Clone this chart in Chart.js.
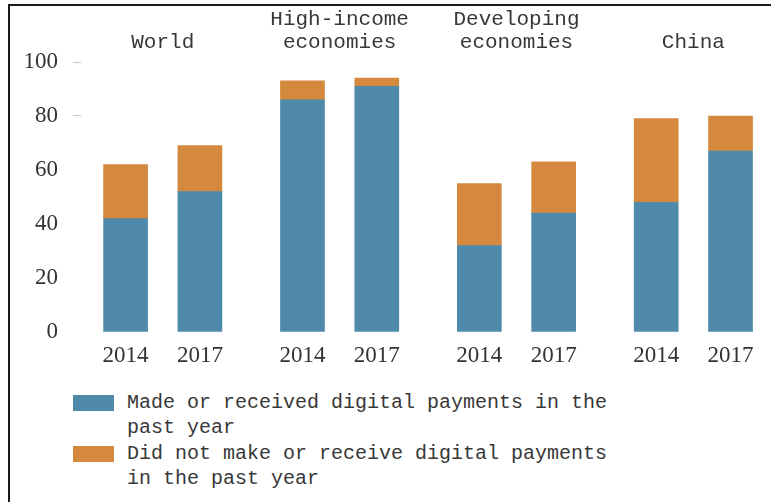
<!DOCTYPE html>
<html>
<head>
<meta charset="utf-8">
<script src="https://cdn.jsdelivr.net/npm/chart.js@4/dist/chart.umd.min.js"></script>
<style>
  html, body { margin: 0; padding: 0; background: #fff; }
  #wrap { position: relative; width: 771px; height: 502px; overflow: hidden; }
  #frame {
    position: absolute; left: 8px; top: 4px; width: 800px; height: 520px;
    border-left: 2.5px solid #1a1a1a; border-top: 2px solid #1a1a1a;
  }
  #chart { position: absolute; left: 0; top: 0; }
  #legend {
    position: absolute; left: 73px; top: 390px;
    font-family: "Liberation Mono", "DejaVu Sans Mono", monospace;
    font-size: 20px; line-height: 25px; color: #383838;
  }
  .item { display: flex; align-items: flex-start; margin-bottom: 1px; }
  .swatch { width: 41px; height: 16px; margin-top: 5px; margin-right: 13px; flex: none; }
  .text { width: 500px; }
</style>
</head>
<body>
<div id="wrap">
  <div id="frame"></div>
  <canvas id="chart" width="771" height="375"></canvas>
  <div id="legend"></div>
</div>
<script>
// Account ownership split by digital payment use, % of adults
const groups = [['World'], ['High-income', 'economies'], ['Developing', 'economies'], ['China']];
const years = ['2014', '2017'];
const digitalPayers = [42, 52, 86, 91, 32, 44, 48, 67];
const nonDigital = [20, 17, 7, 3, 23, 19, 31, 13];
const yTicks = [0, 20, 40, 60, 80, 100];

const seriesNames = [
  'Made or received digital payments in the past year',
  'Did not make or receive digital payments in the past year'
];
const seriesColors = ['#4f8aab', '#d4893f'];

// bars of one group sit one unit apart, groups are spaced a bit wider
const GROUP_STEP = 2.38;
const barX = i => Math.floor(i / 2) * GROUP_STEP + (i % 2);

const toPoints = vals => vals.map((v, i) => ({ x: barX(i), y: v }));

const groupLabels = {
  id: 'groupLabels',
  afterDraw(chart) {
    const { ctx } = chart;
    const xs = chart.scales.x;
    ctx.save();
    ctx.font = '21px "Liberation Mono", monospace';
    ctx.fillStyle = '#383838';
    ctx.textAlign = 'center';
    ctx.textBaseline = 'middle';
    groups.forEach((lines, g) => {
      const cx = xs.getPixelForValue(g * GROUP_STEP + 0.5);
      lines.forEach((line, k) => {
        const y = 42 - (lines.length - 1 - k) * 23;
        ctx.fillText(line, cx, y);
      });
    });
    ctx.restore();
  }
};

const serif = { family: '"Liberation Serif", "Times New Roman", serif', size: 23 };

new Chart(document.getElementById('chart'), {
  type: 'bar',
  data: {
    datasets: [
      { label: seriesNames[0], data: toPoints(digitalPayers), backgroundColor: seriesColors[0] },
      { label: seriesNames[1], data: toPoints(nonDigital), backgroundColor: seriesColors[1] }
    ]
  },
  options: {
    responsive: false,
    devicePixelRatio: 1,
    animation: false,
    barThickness: 44,
    layout: { padding: { top: 62, right: 10, left: 0, bottom: 0 } },
    plugins: { legend: { display: false }, tooltip: { enabled: false } },
    scales: {
      x: {
        type: 'linear',
        offset: false,
        stacked: true,
        min: -0.6,
        max: 8.55,
        afterBuildTicks: s => { s.ticks = digitalPayers.map((_, i) => ({ value: barX(i) })); },
        afterFit: s => { s.height = 43; },
        grid: { display: false },
        border: { display: false },
        ticks: {
          autoSkip: false, maxRotation: 0, padding: 2,
          font: serif, color: '#333',
          callback: (v, i) => years[i % 2]
        }
      },
      y: {
        stacked: true,
        min: 0,
        max: 100,
        afterBuildTicks: s => { s.ticks = yTicks.map(v => ({ value: v })); },
        afterFit: s => { s.width = 81; },
        grid: {
          drawOnChartArea: false,
          drawTicks: true,
          tickLength: 8,
          tickColor: c => (c.tick && c.tick.value >= 80 ? '#c8c8c8' : 'rgba(0,0,0,0)')
        },
        border: { display: false },
        ticks: { padding: 15, font: serif, color: '#333' }
      }
    }
  },
  plugins: [groupLabels]
});

// legend below the chart, text wraps like the printed figure
const legend = document.getElementById('legend');
seriesNames.forEach((name, i) => {
  const item = document.createElement('div');
  item.className = 'item';
  item.innerHTML = '<div class="swatch" style="background:' + seriesColors[i] + '"></div><div class="text">' + name + '</div>';
  legend.appendChild(item);
});
</script>
</body>
</html>
